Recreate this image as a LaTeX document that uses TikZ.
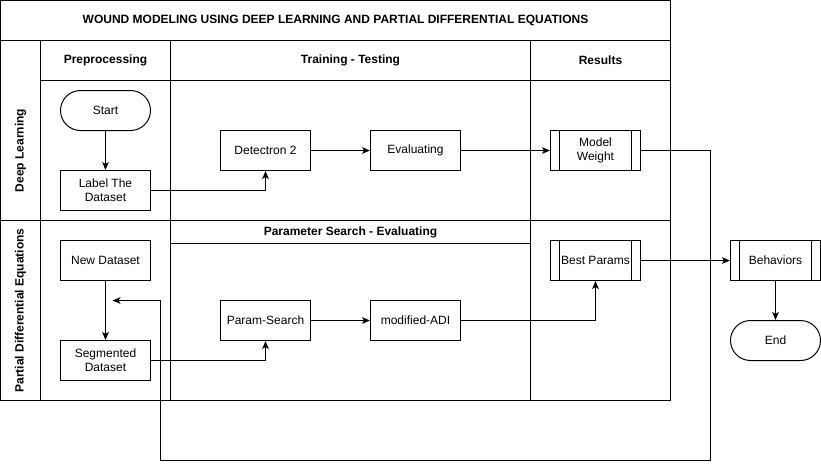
\documentclass[tikz,border=0pt]{standalone}
\usepackage{fontspec}
\setmainfont{Liberation Sans}
\usetikzlibrary{arrows.meta}
\begin{document}
\begin{tikzpicture}[x=0.75pt,y=-0.75pt,
  line width=0.75pt,
  font=\fontsize{9pt}{10.5pt}\selectfont,
  box/.style={draw,minimum width=67.5pt,minimum height=30pt,inner sep=0pt,align=center},
  term/.style={box,rounded corners=15pt},
  proc/.style={box,path picture={
     \draw ([xshift=6.75pt]path picture bounding box.north west) -- ([xshift=6.75pt]path picture bounding box.south west);
     \draw ([xshift=-6.75pt]path picture bounding box.north east) -- ([xshift=-6.75pt]path picture bounding box.south east);}},
  hdr/.style={font=\fontsize{9pt}{10.5pt}\selectfont\bfseries},
  arr/.style={-{Stealth[length=6pt,width=5pt,inset=1.5pt]}}]
\useasboundingbox (-0.5,-0.5) rectangle (820.5,468.5);
% frame and lanes
\draw (0,0) rectangle (670,400);
\draw (0,40) -- (670,40);
\draw (0,220) -- (670,220);
\draw (40,40) -- (40,400);
\draw (170,40) -- (170,400);
\draw (530,40) -- (530,400);
\draw (40,80) -- (670,80);
\draw (170,243) -- (530,243);
\node[hdr] (title) at (335,20) {WOUND MODELING USING DEEP LEARNING AND PARTIAL DIFFERENTIAL EQUATIONS};
\node[hdr] (hpre) at (105,60) {Preprocessing};
\node[hdr] (htrain) at (350,60) {Training - Testing};
\node[hdr] (hres) at (600,60) {Results};
\node[hdr] (hparam) at (350,231.5) {Parameter Search - Evaluating};
\node[hdr,rotate=90] (ldl) at (20,150) {Deep Learning};
\node[hdr,rotate=90] (lpde) at (20,310) {Partial Differential Equations};
% nodes
\node[term] (start) at (105,110) {Start};
\node[box] (label) at (105,190) {Label The\\Dataset};
\node[box] (det) at (265,150) {Detectron 2};
\node[box] (eval) at (415,150) {Evaluating};
\node[proc] (mw) at (595,150) {Model\\Weight};
\node[box] (newds) at (105,260) {New Dataset};
\node[box] (seg) at (105,360) {Segmented\\Dataset};
\node[box] (ps) at (265,320) {Param-Search};
\node[box] (adi) at (415,320) {modified-ADI};
\node[proc] (bp) at (595,260) {Best Params};
\node[proc] (beh) at (775,260) {Behaviors};
\node[term] (end) at (775,340) {End};
\coordinate (loopend) at (112,300);
% connectors
\draw[arr] (start) -- (label);
\draw[arr] (label.east) -| (det.south);
\draw[arr] (det) -- (eval);
\draw[arr] (eval) -- (mw);
\draw[arr] (mw.east) -- (710,150) -- (710,460) -- (160,460) -- (160,300) -- (loopend);
\draw[arr] (newds) -- (seg);
\draw[arr] (seg.east) -| (ps.south);
\draw[arr] (ps) -- (adi);
\draw[arr] (adi.east) -| (bp.south);
\draw[arr] (bp) -- (beh);
\draw[arr] (beh) -- (end);
\end{tikzpicture}
\end{document}
